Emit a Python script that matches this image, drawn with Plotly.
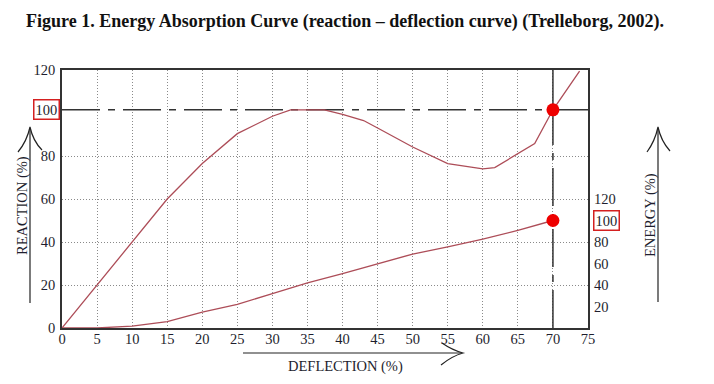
import plotly.graph_objects as go

# ---------------- data ----------------
deflection_reaction = [0, 5, 10, 15, 20, 25, 30, 32.6, 35, 37.4, 40, 43, 45, 47.5, 50, 55, 60, 61.7, 65, 67.4, 70, 73.8]
reaction = [0, 20, 39.5, 60, 76.5, 90.4, 98.5, 101.5, 101.5, 101.5, 99.4, 96.5, 93, 88.5, 84.2, 76.5, 74, 74.6, 81, 85.8, 101.5, 119.5]

deflection_energy = [0, 5, 10, 15, 20, 25, 30, 35, 40, 45, 50, 55, 60, 65, 70]
energy = [0, 0, 1.8, 6, 14.8, 22, 32, 42, 50.6, 60, 68.8, 75.4, 82.6, 90.8, 100]

x_ticks = list(range(0, 80, 5))
y_ticks = [0, 20, 40, 60, 80, 120]
y2_ticks = [20, 40, 60, 80, 120]

rated_deflection = 70
rated_reaction = 101.5
rated_energy = 100

# ---------------- layout helpers ----------------
# the page adds an 8px body margin, so the figure is drawn 8px smaller
OFF = 8
W, H = 714 - OFF, 384 - OFF
L, T = 62 - OFF, 70 - OFF
R, B = W - (588 - OFF), H - (328 - OFF)
PW, PH = W - L - R, H - T - B


def px(x):
    """screen pixel x -> paper x"""
    return (x - OFF - L) / PW


def py(y):
    """screen pixel y -> paper y"""
    return (H - B - (y - OFF)) / PH


SERIF = "Liberation Serif"
TXT = "#1e1e2e"
CURVE = "#ad4d58"
AXC = "#333333"
DASH = "38px,8px,7px,8px"
FS = 14.5

fig = go.Figure()

fig.add_trace(go.Scatter(x=deflection_reaction, y=reaction, mode="lines",
                         line=dict(color=CURVE, width=1.3), hoverinfo="skip"))
fig.add_trace(go.Scatter(x=deflection_energy, y=energy, mode="lines", yaxis="y2",
                         line=dict(color=CURVE, width=1.3), hoverinfo="skip"))

# reference lines
shapes = [
    dict(type="line", xref="x", yref="y", x0=0, x1=rated_deflection, y0=rated_reaction, y1=rated_reaction,
         line=dict(color=AXC, width=1.5, dash=DASH), layer="between"),
    dict(type="line", xref="x", yref="y", x0=rated_deflection, x1=75, y0=rated_reaction, y1=rated_reaction,
         line=dict(color=AXC, width=1.5), layer="between"),
    dict(type="line", xref="x", yref="y", x0=rated_deflection, x1=rated_deflection, y0=rated_reaction, y1=120,
         line=dict(color=AXC, width=1.5), layer="between"),
    dict(type="line", xref="x", yref="y", x0=rated_deflection, x1=rated_deflection, y0=0, y1=rated_reaction,
         line=dict(color=AXC, width=1.5, dash=DASH), layer="between"),
]

arrow_style = dict(color="#222222", width=1.2)
# left arrow
shapes.append(dict(type="line", xref="paper", yref="paper", x0=px(30), x1=px(30), y0=py(303), y1=py(128),
                   line=arrow_style, layer="above"))
shapes.append(dict(type="path", xref="paper", yref="paper",
                   path=f"M {px(18)},{py(152)} Q {px(27)},{py(141)} {px(30)},{py(127)} Q {px(33)},{py(141)} {px(42)},{py(150)}",
                   line=arrow_style, layer="above"))
# right arrow
shapes.append(dict(type="line", xref="paper", yref="paper", x0=px(658), x1=px(658), y0=py(302), y1=py(128),
                   line=arrow_style, layer="above"))
shapes.append(dict(type="path", xref="paper", yref="paper",
                   path=f"M {px(647)},{py(152)} Q {px(655)},{py(141)} {px(658)},{py(127)} Q {px(661)},{py(141)} {px(670)},{py(151)}",
                   line=arrow_style, layer="above"))
# bottom arrow
shapes.append(dict(type="line", xref="paper", yref="paper", x0=px(243), x1=px(462), y0=py(353), y1=py(353),
                   line=arrow_style, layer="above"))
shapes.append(dict(type="path", xref="paper", yref="paper",
                   path=f"M {px(442)},{py(343)} Q {px(452)},{py(350)} {px(463)},{py(353)} Q {px(452)},{py(356)} {px(441)},{py(365)}",
                   line=arrow_style, layer="above"))

# red dots
fig.add_trace(go.Scatter(x=[rated_deflection], y=[rated_reaction], mode="markers",
                         marker=dict(color="#ee0000", size=13), hoverinfo="skip"))
fig.add_trace(go.Scatter(x=[rated_deflection], y=[rated_energy], mode="markers", yaxis="y2",
                         marker=dict(color="#ee0000", size=13), hoverinfo="skip"))

annotations = [
    dict(text="<b>Figure 1. Energy Absorption Curve (reaction – deflection curve) (Trelleborg, 2002).</b>",
         xref="paper", yref="paper", x=px(345), y=py(22), showarrow=False,
         font=dict(family=SERIF, size=18, color="#111111"), xanchor="center", yanchor="middle"),
    dict(text="100", xref="paper", yref="y", x=px(60), y=rated_reaction, showarrow=False,
         xanchor="right", yanchor="middle", bordercolor="#d42020", borderwidth=1.5, borderpad=1,
         font=dict(family=SERIF, size=FS, color=TXT)),
    dict(text="100", xref="paper", yref="y2", x=px(593), y=rated_energy, showarrow=False,
         xanchor="left", yanchor="middle", bordercolor="#d42020", borderwidth=1.5, borderpad=1,
         font=dict(family=SERIF, size=FS, color=TXT)),
    dict(text="REACTION (%)", xref="paper", yref="paper", x=px(22), y=py(206), showarrow=False,
         xanchor="center", yanchor="middle",
         textangle=-90, font=dict(family=SERIF, size=FS, color=TXT)),
    dict(text="ENERGY (%)", xref="paper", yref="paper", x=px(650), y=py(215), showarrow=False,
         xanchor="center", yanchor="middle",
         textangle=-90, font=dict(family=SERIF, size=FS, color=TXT)),
    dict(text="DEFLECTION (%)", xref="paper", yref="paper", x=px(345), y=py(366), showarrow=False,
         xanchor="center", yanchor="middle",
         font=dict(family=SERIF, size=FS, color=TXT)),
]

fig.update_layout(
    width=W, height=H,
    margin=dict(l=L, r=R, t=T, b=B, pad=0, autoexpand=False),
    paper_bgcolor="white", plot_bgcolor="white",
    showlegend=False,
    shapes=shapes,
    annotations=annotations,
    font=dict(family=SERIF, size=FS, color=TXT),
    xaxis=dict(range=[0, 75], tickvals=x_ticks, ticktext=[str(v) for v in x_ticks],
               showgrid=True, gridcolor="#8a8a8a", gridwidth=1, griddash="1px,2px",
               zeroline=False, showline=True, linecolor=AXC, linewidth=1.5, mirror=True,
               ticks="", ticklabelstandoff=-3, automargin=False,
               tickfont=dict(family=SERIF, size=FS, color=TXT)),
    yaxis=dict(range=[0, 120], tickvals=y_ticks, ticktext=[str(v) for v in y_ticks],
               showgrid=True, gridcolor="#8a8a8a", gridwidth=1, griddash="1px,2px",
               zeroline=False, showline=True, linecolor=AXC, linewidth=1.5, mirror=True,
               ticks="", ticklabelstandoff=2, automargin=False,
               tickfont=dict(family=SERIF, size=FS, color=TXT)),
    yaxis2=dict(range=[0, 240], overlaying="y", side="right", tickvals=y2_ticks,
                ticktext=[str(v) for v in y2_ticks], showgrid=False, zeroline=False,
                showline=False, ticks="", ticklabelstandoff=5, automargin=False,
                tickfont=dict(family=SERIF, size=FS, color=TXT)),
)

fig.write_html("out.html")
